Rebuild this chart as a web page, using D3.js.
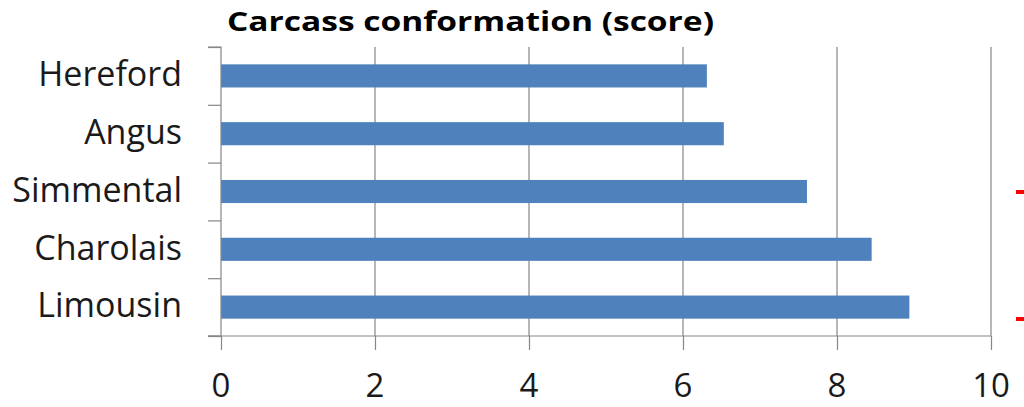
<!DOCTYPE html>
<html>
<head>
<meta charset="utf-8">
<script src="https://cdn.jsdelivr.net/npm/d3@7"></script>
<style>
  html, body { margin: 0; padding: 0; background: #fff; }
  svg { display: block; }
</style>
</head>
<body>
<svg id="chart" width="1024" height="407"></svg>
<script>
// Breeds, top to bottom, and their conformation scores
const breeds = ["Hereford", "Angus", "Simmental", "Charolais", "Limousin"];
const scores = [6.31, 6.53, 7.61, 8.45, 8.94];
const xTicks = [0, 2, 4, 6, 8, 10];
const title = "Carcass conformation (score)";

const svg = d3.select("#chart");
const fontFamily = "'Open Sans', Lato, sans-serif";

const plotLeft = 221, plotRight = 991, plotTop = 47, plotBottom = 336;

const x = d3.scaleLinear().domain([0, 10]).range([plotLeft, plotRight]);
const y = d3.scaleBand().domain(breeds).range([plotTop, plotBottom]).paddingInner(0.6).paddingOuter(0.3);

// vertical gridlines
svg.append("g").selectAll("line").data(xTicks.slice(1)).join("line")
  .attr("x1", d => x(d)).attr("x2", d => x(d))
  .attr("y1", plotTop).attr("y2", plotBottom)
  .attr("stroke", "#868686").attr("stroke-width", 1.2);

// bars
svg.append("g").selectAll("rect").data(breeds).join("rect")
  .attr("x", x(0))
  .attr("y", d => y(d))
  .attr("width", (d, i) => x(scores[i]) - x(0))
  .attr("height", y.bandwidth())
  .attr("fill", "#4F81BD");

// category axis
const yAxis = d3.axisLeft(d3.scaleLinear().domain([0, breeds.length]).range([plotTop, plotBottom]))
  .ticks(breeds.length).tickSize(13).tickFormat("");
const gy = svg.append("g").attr("transform", `translate(${plotLeft},0)`).call(yAxis);
gy.selectAll("path, line").attr("stroke", "#868686").attr("stroke-width", 1.2);
gy.select(".domain").attr("d", `M-13,${plotTop}H0V${plotBottom}H-13`);

svg.append("g").selectAll("text").data(breeds).join("text")
  .attr("x", 182)
  .attr("y", d => y(d) + y.bandwidth() / 2)
  .attr("dy", "0.3em")
  .attr("text-anchor", "end")
  .attr("font-family", fontFamily)
  .attr("font-size", 34)
  .attr("fill", "#1a1a1a")
  .text(d => d);

// value axis
const xAxis = d3.axisBottom(x).tickValues(xTicks).tickSize(14).tickFormat("");
const gx = svg.append("g").attr("transform", `translate(0,${plotBottom})`).call(xAxis);
gx.selectAll("path, line").attr("stroke", "#868686").attr("stroke-width", 1.2);
gx.select(".domain").attr("d", `M${plotLeft - 13},0H${plotRight}`);

svg.append("g").selectAll("text").data(xTicks).join("text")
  .attr("x", d => x(d))
  .attr("y", 397)
  .attr("text-anchor", "middle")
  .attr("font-family", fontFamily)
  .attr("font-size", 33)
  .attr("fill", "#1a1a1a")
  .text(d => d);

// title
svg.append("text")
  .attr("x", 227).attr("y", 31)
  .attr("textLength", 487)
  .attr("lengthAdjust", "spacingAndGlyphs")
  .attr("font-family", fontFamily)
  .attr("font-weight", "bold")
  .attr("font-size", 26)
  .attr("fill", "#000")
  .text(title);

// red markers at right edge
svg.append("g").selectAll("rect").data([190, 317]).join("rect")
  .attr("x", 1016).attr("y", d => d).attr("width", 8).attr("height", 4)
  .attr("fill", "#ff0000");
</script>
</body>
</html>
